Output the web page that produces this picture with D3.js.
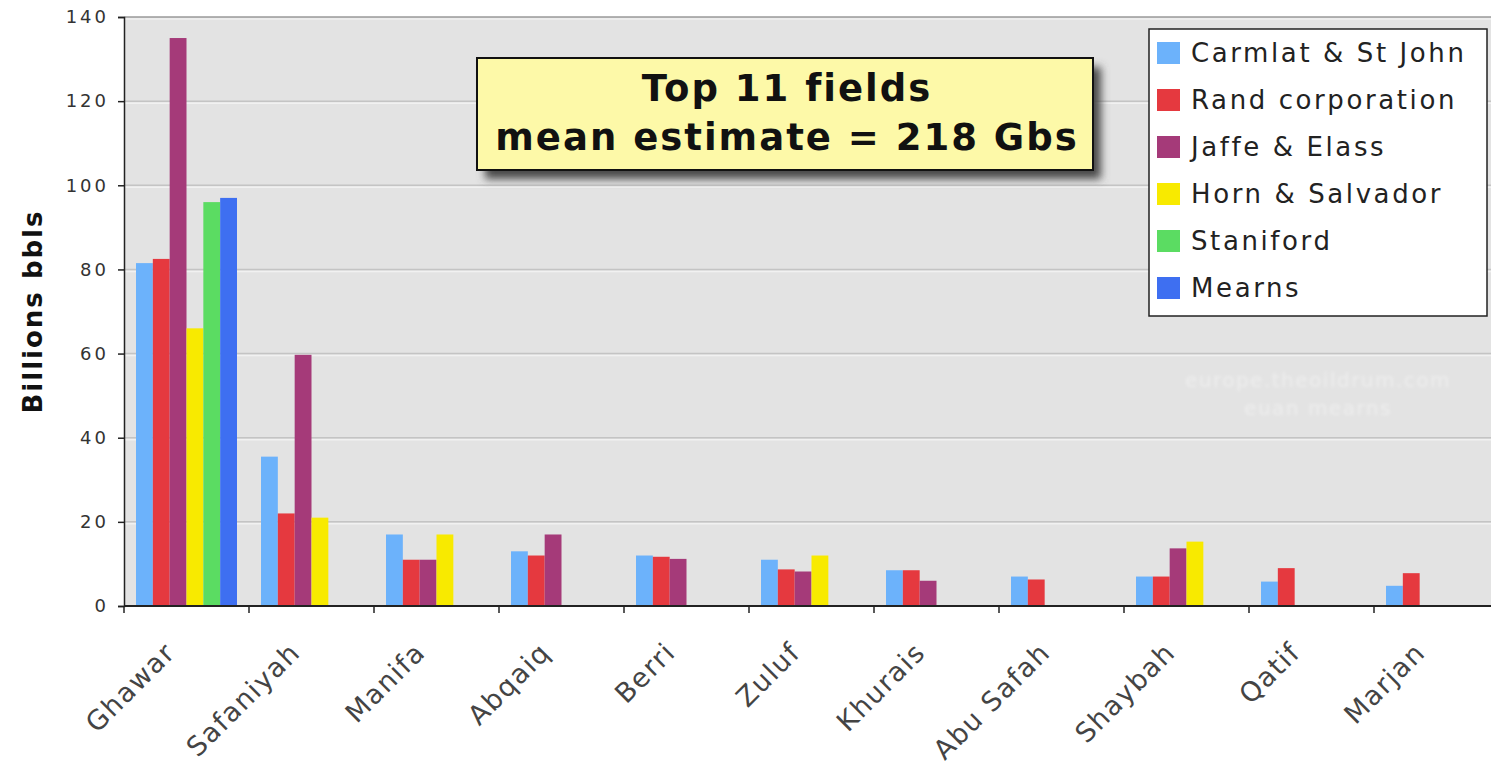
<!DOCTYPE html>
<html>
<head>
<meta charset="utf-8">
<script src="https://cdn.jsdelivr.net/npm/d3@7"></script>
<style>
  html, body { margin: 0; padding: 0; background: #fff; }
  svg { display: block; }
</style>
</head>
<body>
<svg id="chart" width="1491" height="771"></svg>
<script>
// Saudi oil fields, estimates of ultimate recovery (billions of barrels)
const fields = ["Ghawar", "Safaniyah", "Manifa", "Abqaiq", "Berri", "Zuluf",
                "Khurais", "Abu Safah", "Shaybah", "Qatif", "Marjan"];
const seriesNames = ["Carmlat & St John", "Rand corporation", "Jaffe & Elass",
                     "Horn & Salvador", "Staniford", "Mearns"];
const seriesColors = ["#6cb2fb", "#e5393f", "#a53a79", "#f8ea00", "#5bdc62", "#3e6ff1"];

const carmlat   = [81.5, 35.5, 17, 13, 12, 11, 8.5, 7, 7, 5.8, 4.8];
const rand      = [82.5, 22, 11, 12, 11.7, 8.7, 8.5, 6.3, 7, 9, 7.8];
const jaffe     = [135, 59.7, 11, 17, 11.2, 8.2, 6, null, 13.7, null, null];
const horn      = [66, 21, 17, null, null, 12, null, null, 15.3, null, null];
const staniford = [96, null, null, null, null, null, null, null, null, null, null];
const mearns    = [97, null, null, null, null, null, null, null, null, null, null];

const yTicks = [0, 20, 40, 60, 80, 100, 120, 140];
const titleLines = ["Top 11 fields", "mean estimate = 218 Gbs"];
const watermarkLines = ["europe.theoildrum.com", "euan mearns"];

const allSeries = [carmlat, rand, jaffe, horn, staniford, mearns];
const FONT = "DejaVu Sans, Verdana, sans-serif";

const svg = d3.select("#chart");
const plot = { left: 124, top: 17, right: 1499, bottom: 606 };

const x0 = d3.scaleBand().domain(fields).range([plot.left, plot.right]).padding(0);
const x1 = d3.scaleBand().domain(d3.range(seriesNames.length)).range([12, 113]).padding(0);
const y = d3.scaleLinear().domain([0, 140]).range([plot.bottom, plot.top]);

const defs = svg.append("defs");
defs.append("filter").attr("id", "shadow").attr("x", "-10%").attr("y", "-30%")
  .attr("width", "130%").attr("height", "180%")
  .append("feGaussianBlur").attr("stdDeviation", 4);
defs.append("filter").attr("id", "soft").attr("x", "-10%").attr("y", "-50%")
  .attr("width", "120%").attr("height", "200%")
  .append("feGaussianBlur").attr("stdDeviation", 1.8);

// plot background
svg.append("rect")
  .attr("x", plot.left).attr("y", plot.top)
  .attr("width", plot.right - plot.left).attr("height", plot.bottom - plot.top)
  .attr("fill", "#e3e3e3");

// gridlines with a light bevel underneath
const grid = svg.append("g");
yTicks.filter(d => d > 0).forEach(d => {
  grid.append("line")
    .attr("x1", plot.left).attr("x2", plot.right)
    .attr("y1", y(d) + 2).attr("y2", y(d) + 2)
    .attr("stroke", "#f1f1f1").attr("stroke-width", 1.5);
  grid.append("line")
    .attr("x1", plot.left).attr("x2", plot.right)
    .attr("y1", y(d)).attr("y2", y(d))
    .attr("stroke", d === 140 ? "#9a9a9a" : "#c4c4c4").attr("stroke-width", 1.5);
});

// watermark
const wm = svg.append("g").attr("filter", "url(#soft)");
watermarkLines.forEach((t, i) => {
  wm.append("text")
    .attr("x", 1318).attr("y", 387 + i * 28)
    .attr("text-anchor", "middle")
    .attr("font-family", FONT)
    .attr("font-size", 20)
    .attr("letter-spacing", 1.5)
    .attr("fill", "#eeeeee")
    .text(t);
});

// bars
const rows = fields.map((f, i) => ({ field: f, vals: allSeries.map(s => s[i]) }));
const groups = svg.append("g").selectAll("g").data(rows).join("g")
  .attr("transform", d => `translate(${x0(d.field)},0)`);
groups.selectAll("rect")
  .data(d => d.vals.map((v, k) => ({ k, v })).filter(o => o.v != null))
  .join("rect")
  .attr("x", o => x1(o.k))
  .attr("width", x1.bandwidth())
  .attr("y", o => y(o.v))
  .attr("height", o => y(0) - y(o.v))
  .attr("fill", o => seriesColors[o.k]);

// y axis
const yAxis = svg.append("g")
  .attr("transform", `translate(${plot.left},0)`)
  .call(d3.axisLeft(y).tickValues(yTicks).tickSize(6).tickPadding(9).tickFormat(d3.format("d")));
yAxis.select(".domain").attr("stroke", "#222").attr("stroke-width", 1.5);
yAxis.selectAll(".tick line").attr("stroke", "#222").attr("stroke-width", 1.5);
yAxis.selectAll(".tick text")
  .attr("font-family", FONT)
  .attr("font-size", 18)
  .attr("letter-spacing", 3)
  .attr("fill", "#333");

// x axis, ticks between categories
const xAxisG = svg.append("g").attr("transform", `translate(0,${plot.bottom})`);
xAxisG.append("line")
  .attr("x1", plot.left).attr("x2", plot.right)
  .attr("stroke", "#222").attr("stroke-width", 2);
xAxisG.selectAll("line.tk").data(fields).join("line").attr("class", "tk")
  .attr("x1", d => x0(d)).attr("x2", d => x0(d))
  .attr("y1", 0).attr("y2", 7)
  .attr("stroke", "#222").attr("stroke-width", 1.5);
xAxisG.selectAll("text").data(fields).join("text")
  .attr("transform", d => `translate(${x0(d) + 53},${48}) rotate(-45)`)
  .attr("text-anchor", "end")
  .attr("font-family", FONT)
  .attr("font-size", 27)
  .attr("letter-spacing", 1.5)
  .attr("fill", "#444")
  .text(d => d);

// y axis title
svg.append("text")
  .attr("transform", `translate(42,${(plot.top + plot.bottom) / 2}) rotate(-90)`)
  .attr("text-anchor", "middle")
  .attr("font-family", FONT)
  .attr("font-weight", "bold")
  .attr("font-size", 26)
  .attr("letter-spacing", 2)
  .attr("fill", "#111")
  .text("Billions bbls");

// title box
const tb = { x: 477, y: 58, w: 616, h: 112 };
svg.append("rect")
  .attr("x", tb.x + 8).attr("y", tb.y + 9)
  .attr("width", tb.w).attr("height", tb.h)
  .attr("fill", "#4a4a4a").attr("filter", "url(#shadow)");
svg.append("rect")
  .attr("x", tb.x).attr("y", tb.y)
  .attr("width", tb.w).attr("height", tb.h)
  .attr("fill", "#fdf9a8").attr("stroke", "#111").attr("stroke-width", 2);
titleLines.forEach((t, i) => {
  svg.append("text")
    .attr("x", tb.x + tb.w / 2 + 2).attr("y", tb.y + 43 + i * 49)
    .attr("text-anchor", "middle")
    .attr("font-family", FONT)
    .attr("font-weight", "bold")
    .attr("font-size", 37)
    .attr("letter-spacing", 2)
    .attr("fill", "#111")
    .text(t);
});

// legend
const lg = { x: 1149, y: 29, w: 338, h: 287 };
const legend = svg.append("g");
legend.append("rect")
  .attr("x", lg.x).attr("y", lg.y).attr("width", lg.w).attr("height", lg.h)
  .attr("fill", "#fff").attr("stroke", "#222").attr("stroke-width", 1.5);
const items = legend.selectAll("g").data(seriesNames).join("g")
  .attr("transform", (d, i) => `translate(${lg.x},${lg.y + 24 + i * 47})`);
items.append("rect")
  .attr("x", 8).attr("y", -11).attr("width", 23).attr("height", 22)
  .attr("fill", (d, i) => seriesColors[i]);
items.append("text")
  .attr("x", 42).attr("y", 9)
  .attr("font-family", FONT)
  .attr("font-size", 26)
  .attr("letter-spacing", 2.6)
  .attr("fill", "#222")
  .text(d => d);
</script>
</body>
</html>
